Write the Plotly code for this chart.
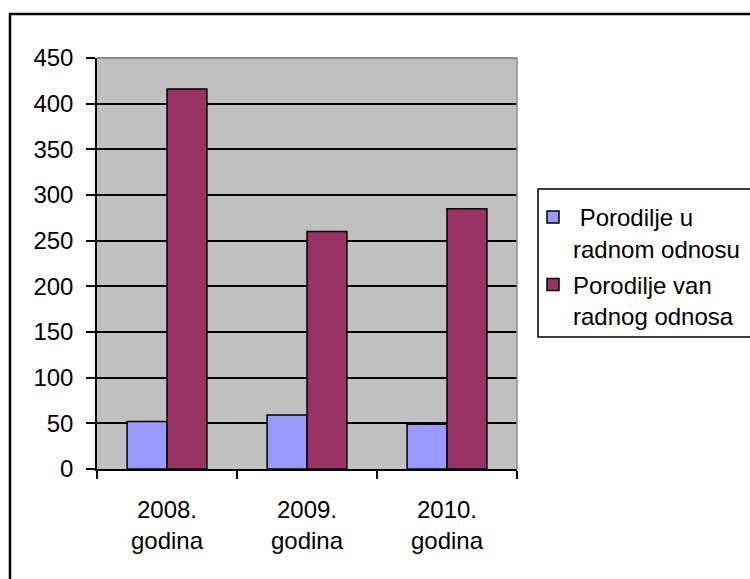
import plotly.graph_objects as go

categories = ["2008.<br>godina", "2009.<br>godina", "2010.<br>godina"]
series_names = ["\u00a0Porodilje u<br>radnom odnosu", "Porodilje van<br>radnog odnosa"]
u_radnom = [52, 59, 49]
van_radnog = [416, 260, 285]
colors = ["#9999FF", "#993366"]
y_ticks = [0, 50, 100, 150, 200, 250, 300, 350, 400, 450]

W, H = 750, 579
L, R, T, B = 97, 233, 58, 110
pw, ph = W - L - R, H - T - B

def px_x(p):
    return (p - L) / pw

def px_y(p):
    return (H - B - p) / ph

font = dict(family="Liberation Sans, Arial, sans-serif", size=24, color="black")

fig = go.Figure()
for i, (name, vals, c) in enumerate(zip(series_names, [u_radnom, van_radnog], colors)):
    fig.add_trace(go.Bar(
        x=categories, y=vals, name=name, legendgroup=f"g{i}",
        marker=dict(color=c, line=dict(color="black", width=1.5)),
    ))

fig.update_layout(
    width=W, height=H,
    margin=dict(l=L, r=R, t=T, b=B, autoexpand=False),
    paper_bgcolor="white",
    plot_bgcolor="#C0C0C0",
    font=font,
    barmode="group",
    bargap=0.43,
    bargroupgap=0,
    showlegend=True,
    legend=dict(
        x=px_x(533), y=px_y(195), xanchor="left", yanchor="top",
        bgcolor="rgba(0,0,0,0)", borderwidth=0,
        valign="top", font=font, itemwidth=30, tracegroupgap=2,
    ),
    xaxis=dict(
        showline=True, linecolor="black", linewidth=1.5,
        ticks="outside", ticklen=8, tickcolor="black", tickwidth=1.5,
        tickson="boundaries", showgrid=False, ticklabelstandoff=18,
    ),
    yaxis=dict(
        range=[0, 450], tickvals=y_ticks,
        showline=True, linecolor="black", linewidth=1.5,
        ticks="outside", ticklen=9, tickcolor="black", tickwidth=1.5,
        showgrid=True, gridcolor="black", gridwidth=1.5,
        zeroline=False, ticklabelstandoff=8,
    ),
    shapes=[
        dict(type="line", xref="paper", yref="paper", x0=0, x1=1, y0=1, y1=1,
             line=dict(color="#8c8c8c", width=2), layer="above"),
        dict(type="line", xref="paper", yref="paper", x0=1, x1=1, y0=0, y1=1,
             line=dict(color="#8c8c8c", width=1.5), layer="above"),
        dict(type="rect", xref="paper", yref="paper",
             x0=px_x(538), x1=px_x(770), y0=px_y(337), y1=px_y(189),
             line=dict(color="black", width=1.5), layer="below"),
        dict(type="rect", xref="paper", yref="paper",
             x0=px_x(10), x1=px_x(790), y0=px_y(620), y1=px_y(14),
             line=dict(color="black", width=2.5), layer="below"),
    ],
)

fig.write_html(
    "out.html",
    config={"displayModeBar": False},
    post_script="document.body.style.margin='0';document.body.style.overflow='hidden';",
)
